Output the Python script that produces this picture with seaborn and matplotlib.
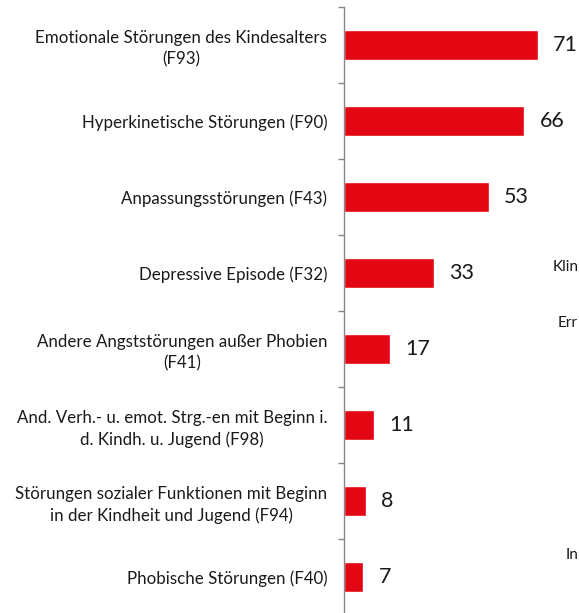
import matplotlib
matplotlib.use("Agg")
import matplotlib.pyplot as plt
import seaborn as sns
import pandas as pd

categories = [
    "Emotionale Störungen des Kindesalters\n(F93)",
    "Hyperkinetische Störungen (F90)",
    "Anpassungsstörungen (F43)",
    "Depressive Episode (F32)",
    "Andere Angststörungen außer Phobien\n(F41)",
    "And. Verh.- u. emot. Strg.-en mit Beginn i.\nd. Kindh. u. Jugend (F98)",
    "Störungen sozialer Funktionen mit Beginn\nin der Kindheit und Jugend (F94)",
    "Phobische Störungen (F40)",
]
values = [71, 66, 53, 33, 17, 11, 8, 7]
side_texts = ["Klin", "Err", "In"]

sns.set_style("white")
plt.rcParams["font.family"] = ["Lato", "DejaVu Sans"]

W, H, DPI = 579, 613, 100
fig = plt.figure(figsize=(W / DPI, H / DPI), dpi=DPI)
ax_left = 344 / W
ax_top = 7
ax_bottom = 615
ax = fig.add_axes([ax_left, 1 - ax_bottom / H, (W - 344) / W, (ax_bottom - ax_top) / H])

df = pd.DataFrame({"cat": categories, "val": values})
sns.barplot(data=df, x="val", y="cat", orient="h", color="#E30613",
            saturation=1, width=0.4, ax=ax)

ax.set_xlim(0, 86)
ax.set_ylim(len(categories) - 0.5, -0.5)
ax.set_xlabel("")
ax.set_ylabel("")
ax.set_xticks([])

for s in ["top", "right", "bottom"]:
    ax.spines[s].set_visible(False)
ax.spines["left"].set_color("#868686")
ax.spines["left"].set_linewidth(1.0)

ax.set_yticks(range(len(categories)))
ax.set_yticklabels(categories, fontsize=12.2, color="#1a1a1a")
for t in ax.get_yticklabels():
    t.set_multialignment("center")
    t.set_linespacing(1.4)
ax.tick_params(axis="y", which="major", length=0, pad=12)
ax.set_yticks([i - 0.5 for i in range(len(categories) + 1)], minor=True)
ax.tick_params(axis="y", which="minor", length=4, width=1.0, color="#868686", left=True)

for i, v in enumerate(values):
    ax.annotate(str(v), xy=(v, i), xytext=(11, 0), textcoords="offset points",
                ha="left", va="center", fontsize=15.5, color="#1a1a1a",
                annotation_clip=False)

fig.text(553 / W, 1 - 267 / H, side_texts[0], fontsize=11, va="center", ha="left", color="#1a1a1a")
fig.text(558 / W, 1 - 323 / H, side_texts[1], fontsize=11, va="center", ha="left", color="#1a1a1a")
fig.text(566 / W, 1 - 555 / H, side_texts[2], fontsize=11, va="center", ha="left", color="#1a1a1a")

fig.savefig("out.png", dpi=DPI)
